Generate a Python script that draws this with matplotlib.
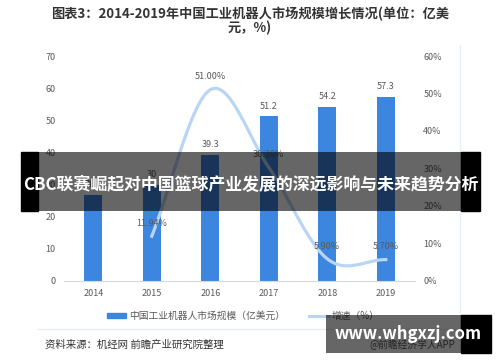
import numpy as np
import matplotlib
matplotlib.use('Agg')
from matplotlib import pyplot as plt
from matplotlib.patches import Rectangle
from matplotlib.lines import Line2D

plt.rcParams['font.family'] = ['Noto Sans CJK SC', 'DejaVu Sans']

# 数据
years = ['2014', '2015', '2016', '2017', '2018', '2019']
market = [26.8, 30, 39.3, 51.2, 54.2, 57.3]
growth_years = ['2015', '2016', '2017', '2018', '2019']
growth = [11.94, 51.00, 30.30, 5.90, 5.70]
growth_labels = ['11.94%', '51.00%', '30.30%', '5.90%', '5.70%']

title = '图表3：2014-2019年中国工业机器人市场规模增长情况(单位：亿美\n元，%)'
bar_name = '中国工业机器人市场规模（亿美元）'
line_name = '增速（%）'
source = '资料来源：机经网 前瞻产业研究院整理'
banner = 'CBC联赛崛起对中国篮球产业发展的深远影响与未来趋势分析'
site = 'www.whgxzj.com'
app = '@前瞻经济学人APP'

bar_color = '#3d86e0'
line_color = '#b9d5f6'
txt = '#595959'


def smooth(x, y, n=30):
    # Catmull-Rom 平滑曲线
    x = np.asarray(x, float)
    y = np.asarray(y, float)
    px = np.concatenate([[2 * x[0] - x[1]], x, [2 * x[-1] - x[-2]]])
    py = np.concatenate([[2 * y[0] - y[1]], y, [2 * y[-1] - y[-2]]])
    xs, ys = [], []
    t = np.linspace(0, 1, n)
    for i in range(1, len(px) - 2):
        for p, out in ((px, xs), (py, ys)):
            p0, p1, p2, p3 = p[i - 1], p[i], p[i + 1], p[i + 2]
            out.extend(0.5 * (2 * p1 + (-p0 + p2) * t
                              + (2 * p0 - 5 * p1 + 4 * p2 - p3) * t ** 2
                              + (-p0 + 3 * p1 - 3 * p2 + p3) * t ** 3))
    return np.array(xs), np.array(ys)


fig = plt.figure(figsize=(5, 3.62), dpi=100)
ax = fig.add_axes([0.128, 0.2238, 0.702, 0.6215])
ax2 = ax.twinx()

x = np.arange(len(years))
bars = ax.bar(x, market, width=0.31, color=bar_color, zorder=2)
for xi, v in zip(x, market):
    ax.annotate(f'{v:g}', (xi, v), xytext=(0, 4), textcoords='offset points',
                ha='center', va='bottom', fontsize=6.5, color=txt)

ax.set_xlim(-0.5, 5.5)
ax.set_ylim(0, 70)
ax.set_yticks(range(0, 71, 10))
ax.set_xticks(x)
ax.set_xticklabels(years)
for s in ['top', 'right', 'left']:
    ax.spines[s].set_visible(False)
ax.spines['bottom'].set_color('#d9d9d9')
ax.tick_params(axis='both', length=0, labelsize=6.5, labelcolor=txt, pad=6)

gx = [years.index(y) for y in growth_years]
sx, sy = smooth(gx, growth)
ax2.plot(sx, sy, color=line_color, lw=2.3, zorder=3)
for xi, v, lab in zip(gx, growth, growth_labels):
    ax2.annotate(lab, (xi, v), xytext=(0, 6), textcoords='offset points',
                 ha='center', va='bottom', fontsize=6.5, color=txt)
ax2.set_ylim(0, 60)
ax2.set_yticks(range(0, 61, 10))
ax2.set_yticklabels([f'{t}%' for t in range(0, 61, 10)])
for s in ax2.spines.values():
    s.set_visible(False)
ax2.tick_params(axis='y', length=0, labelsize=6.5, labelcolor=txt, pad=6)

fig.text(0.5, 0.982, title, ha='center', va='top', fontsize=9.5,
         fontweight='bold', color='#333333', linespacing=0.95)

handles = [Rectangle((0, 0), 1, 1, color=bar_color),
           Line2D([0], [0], color=line_color, lw=2.2)]
fig.legend(handles, [bar_name, line_name], loc='center',
           bbox_to_anchor=(0.486, 0.127), ncol=2, frameon=False,
           fontsize=7, labelcolor=txt, handlelength=2.05, handleheight=0.5,
           columnspacing=2.4, handletextpad=0.3)

fig.add_artist(Line2D([38 / 500, 460 / 500], [1 - 329 / 362] * 2,
                      color='#e8eef6', lw=1))
fig.add_artist(Line2D([460 / 500] * 2, [1 - 329 / 362, 1 - 45 / 362],
                      color='#e8eef6', lw=1))
fig.text(45 / 500, 1 - 345 / 362, source, ha='left', va='center',
         fontsize=7.5, color='#333333')

# 横幅
fig.add_artist(Rectangle((21 / 500, 1 - 211 / 362), 17 / 500, 59 / 362,
                         transform=fig.transFigure, color='black', zorder=10))
fig.add_artist(Rectangle((38 / 500, 1 - 211 / 362), 423 / 500, 59 / 362,
                         transform=fig.transFigure, color='black', alpha=0.6,
                         lw=0, zorder=10))
fig.add_artist(Rectangle((461 / 500, 1 - 211 / 362), 19 / 500, 59 / 362,
                         transform=fig.transFigure, color='black', zorder=10))
fig.text(250.5 / 500, 1 - 185 / 362, banner, ha='center', va='center',
         fontsize=12.2, fontweight='bold', color='white', zorder=11)

# 水印
fig.text(412 / 500, 1 - 345 / 362, app, ha='center', va='center',
         fontsize=7, color='#555555', zorder=9)
fig.add_artist(Rectangle((326 / 500, 1 - 353 / 362), 135 / 500, 38 / 362,
                         transform=fig.transFigure, color='black', alpha=0.6,
                         lw=0, zorder=10))
fig.add_artist(Rectangle((461 / 500, 1 - 353 / 362), 30 / 500, 38 / 362,
                         transform=fig.transFigure, color='black', zorder=10))
fig.text(408 / 500, 1 - 334 / 362, site, ha='center', va='center',
         fontsize=12, fontweight='bold', color='white', zorder=11)

fig.savefig('out.png', dpi=100)
